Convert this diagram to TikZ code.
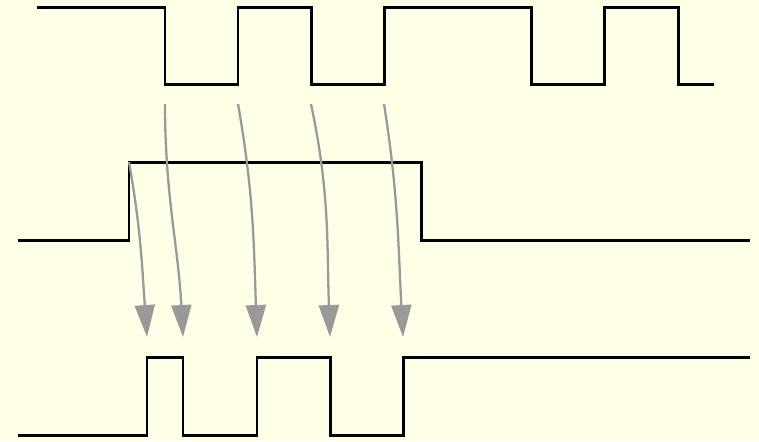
\documentclass[tikz,border=0pt]{standalone}
\usepackage{tikz}
\usetikzlibrary{arrows.meta}
\definecolor{bgyellow}{HTML}{FFFFE8}
\definecolor{arrowgray}{HTML}{999999}

\begin{document}
\begin{tikzpicture}[x=0.02cm,y=-0.02cm]
			\tikzstyle{signal} = [draw=black, line width=1.7pt, line join=miter];
			\tikzstyle{trigger} = [draw=arrowgray, line width=1.3pt, -{Triangle[length=0.64cm,width=0.4cm]}];
			\fill [bgyellow] (0,0) rectangle (759,441);
			\useasboundingbox (0,0) rectangle (759,441);

			% clock
			\draw [signal] (37,7) -- (165,7) -- (165,84) -- (238,84) -- (238,7) -- (311,7) -- (311,84) -- (384,84) -- (384,7) -- (531,7) -- (531,84) -- (604,84) -- (604,7) -- (678,7) -- (678,84) -- (714,84);
			% enable
			\draw [signal] (18,240) -- (129,240) -- (129,162) -- (421,162) -- (421,240) -- (750,240);
			% output
			\draw [signal] (18,435) -- (147,435) -- (147,357) -- (183,357) -- (183,435) -- (257,435) -- (257,357) -- (330,357) -- (330,435) -- (403,435) -- (403,357) -- (750,357);

			\coordinate (en) at (129,162);
			\coordinate (clk1) at (165,104);
			\coordinate (clk2) at (238,104);
			\coordinate (clk3) at (311,104);
			\coordinate (clk4) at (384,104);
			\coordinate (out0) at (147,337);
			\coordinate (out1) at (183,337);
			\coordinate (out2) at (257,337);
			\coordinate (out3) at (330,337);
			\coordinate (out4) at (403,337);

			\draw [trigger] (en) to[out=-80,in=94] (out0);
			\draw [trigger] (clk1) to[out=-90,in=93] (out1);
			\draw [trigger] (clk2) to[out=-80,in=92] (out2);
			\draw [trigger] (clk3) to[out=-78,in=92] (out3);
			\draw [trigger] (clk4) to[out=-81,in=93] (out4);
		\end{tikzpicture}
\end{document}
